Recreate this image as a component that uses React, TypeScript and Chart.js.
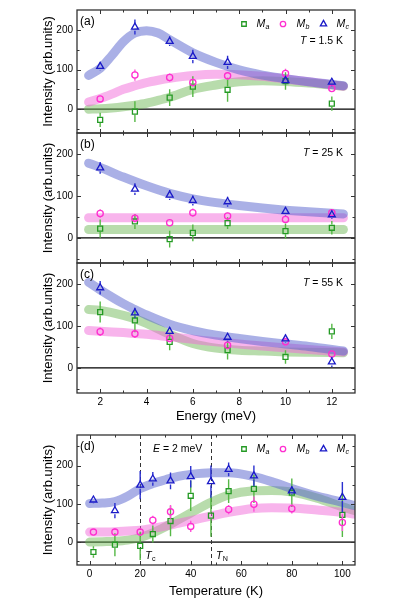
import React, { useEffect, useRef } from 'react';
import { Chart, registerables } from 'chart.js';
Chart.register(...registerables);

const FONT = '"Liberation Sans", Arial, Helvetica, sans-serif';

// ---------- tick values ----------
const energyTicks = [2, 4, 6, 8, 10, 12];
const energyMinor = [3, 5, 7, 9, 11];
const tempTicks = [0, 20, 40, 60, 80, 100];
const tempMinor = [10, 30, 50, 70, 90];
const intensityTicks = [0, 100, 200];
const intensityMinor = [-50, 50, 150, 250];

// ---------- panel (a) T = 1.5 K ----------
const energyA = [2, 3.5, 5, 6, 7.5, 10, 12];
const maA = [-27, -6, 29, 57, 49, 71, 14];
const maAErr = [18, 26, 21, 26, 30, 22, 18];
const mbA = [26, 86, 80, 67, 84, 90, 52];
const mbAErr = [8, 14, 10, 10, 10, 12, 8];
const mcA = [108, 207, 171, 133, 118, 72, 68];
const mcAErr = [10, 19, 12, 17, 17, 10, 10];
const fitEA = [1.5, 2, 2.5, 3, 3.5, 4, 4.5, 5, 6, 7, 8, 9, 10, 11, 12.5];
const fitMcA = [85, 103, 135, 170, 192, 198, 192, 175, 142, 118, 99, 86, 77, 69, 59];
const fitMbA = [18, 27, 38, 50, 59, 67, 73, 78, 85, 88, 87, 83, 76, 69, 58];
const fitMaA = [0, 1, 3, 6, 10, 15, 22, 30, 50, 61, 69, 72, 70, 66, 58];

// ---------- panel (b) T = 25 K ----------
const energyB = [2, 3.5, 5, 6, 7.5, 10, 12];
const maB = [22, 39, -3, 12, 35, 16, 24];
const maBErr = [22, 18, 20, 20, 14, 18, 16];
const mbB = [58, 47, 36, 60, 52, 44, 60];
const mbBErr = [10, 10, 8, 10, 8, 8, 8];
const mcB = [167, 116, 102, 89, 86, 63, 55];
const mcBErr = [14, 14, 12, 12, 12, 10, 10];
const fitEB = [1.5, 2, 3, 4, 5, 6, 7, 8, 9, 10, 11, 12.5];
const fitMcB = [178, 168, 145, 124, 106, 93, 84, 77, 71, 66, 62, 57];
const fitEFlat = [1.5, 12.5];
const fitMbB = [48, 48];
const fitMaB = [20, 20];

// ---------- panel (c) T = 55 K ----------
const energyC = [2, 3.5, 5, 7.5, 10, 12];
const maC = [133, 113, 62, 42, 26, 87];
const maCErr = [25, 28, 20, 22, 16, 18];
const mbC = [86, 81, 70, 54, 62, 33];
const mbCErr = [10, 10, 8, 10, 10, 8];
const mcC = [191, 131, 87, 73, 69, 14];
const mcCErr = [16, 12, 10, 10, 10, 12];
const fitEC = [1.5, 2, 3, 3.5, 4, 5, 6, 7, 8, 9, 10, 11, 12.5];
const fitMcC = [204, 186, 153, 139, 126, 104, 89, 78, 70, 63, 57, 51, 40];
const fitMaC = [139, 137, 125, 117, 106, 80, 58, 47, 42, 40, 38, 37, 36];
const fitMbC = [89, 87, 84, 82, 80, 74, 68, 62, 57, 52, 48, 44, 38];

// ---------- panel (d) E = 2 meV ----------
const tempD = [1.5, 10, 20, 25, 32, 40, 48, 55, 65, 80, 100];
const maD = [-26, -7, -10, 21, 55, 121, 69, 133, 139, 129, 71];
const maDErr = [15, 30, 37, 22, 40, 40, 55, 31, 37, 37, 58];
const tempDb = [1.5, 10, 20, 25, 32, 40, 55, 65, 80, 100];
const mbD = [26, 26, 26, 57, 79, 41, 85, 99, 87, 51];
const mbDErr = [8, 10, 10, 12, 18, 15, 12, 20, 12, 22];
const mcD = [110, 82, 149, 165, 160, 171, 158, 190, 173, 134, 117];
const mcDErr = [10, 20, 37, 18, 22, 28, 42, 18, 27, 11, 40];
const fitT = [0, 5, 10, 15, 20, 25, 30, 35, 40, 48, 55, 65, 72, 80, 90, 100, 105];
const fitMcD = [101, 102, 106, 120, 140, 153, 163, 172, 177, 181, 181, 171, 158, 140, 120, 104, 95];
const fitMbD = [26, 26, 27, 29, 31, 36, 42, 49, 56, 68, 78, 88, 90, 89, 84, 78, 73];
const fitMaD = [0, 1, 2, 5, 12, 24, 40, 58, 76, 104, 123, 134, 135, 131, 115, 92, 82];
const tcTemp = 20;
const tnTemp = 48;

// ---------- styles ----------
const GREEN = '#249a24';
const GREEN_ERR = '#55b845';
const PINK = '#ff2fd0';
const PINK_ERR = '#ff55d8';
const BLUE = '#1a1ac8';
const BLUE_ERR = '#2a30d0';
const GREEN_BAND = 'rgba(113,185,89,0.5)';
const PINK_BAND = 'rgba(241,105,217,0.5)';
const BLUE_BAND = 'rgba(85,97,205,0.5)';
const AXIS = '#333';

const pts = (xs: number[], ys: number[]) => xs.map((x, i) => ({ x, y: ys[i] }));

function fitSet(xs: number[], ys: number[], color: string, order: number) {
  return {
    type: 'line',
    data: pts(xs, ys),
    borderColor: color,
    borderWidth: 9,
    pointRadius: 0,
    cubicInterpolationMode: 'monotone',
    borderCapStyle: 'round',
    borderJoinStyle: 'round',
    fill: false,
    order,
    clip: 0,
  };
}

function markSet(xs: number[], ys: number[], errs: number[], style: string, color: string, errColor: string, radius: number) {
  return {
    type: 'line',
    data: pts(xs, ys),
    showLine: false,
    pointStyle: style,
    pointRadius: radius,
    pointHoverRadius: radius,
    pointBorderColor: color,
    pointBackgroundColor: 'rgba(0,0,0,0)',
    pointBorderWidth: 1.3,
    errors: errs,
    errColor,
    order: 1,
  };
}

const errorBarPlugin = {
  id: 'errBars',
  beforeDatasetDraw(chart: any, args: any) {
    const ds = chart.data.datasets[args.index];
    if (!ds.errors) return;
    const ctx = chart.ctx;
    const xs = chart.scales.x;
    const ys = chart.scales.y;
    const gap = ds.pointRadius * 0.9;
    ctx.save();
    ctx.strokeStyle = ds.errColor;
    ctx.lineWidth = 1.4;
    ds.data.forEach((p: any, i: number) => {
      const e = ds.errors[i];
      const px = xs.getPixelForValue(p.x);
      const py = ys.getPixelForValue(p.y);
      const y1 = ys.getPixelForValue(p.y + e);
      const y2 = ys.getPixelForValue(p.y - e);
      ctx.beginPath();
      ctx.moveTo(px, y1);
      ctx.lineTo(px, Math.max(y1, py - gap));
      ctx.moveTo(px, Math.min(y2, py + gap));
      ctx.lineTo(px, y2);
      ctx.stroke();
    });
    ctx.restore();
  },
};

function drawMarker(ctx: CanvasRenderingContext2D, style: string, x: number, y: number, r: number, color: string) {
  ctx.save();
  ctx.strokeStyle = color;
  ctx.lineWidth = 1.3;
  ctx.beginPath();
  if (style === 'rect') {
    const s = Math.SQRT1_2 * r;
    ctx.rect(x - s, y - s, 2 * s, 2 * s);
  } else if (style === 'circle') {
    ctx.arc(x, y, r, 0, Math.PI * 2);
  } else {
    const a = (Math.PI * 2) / 3;
    ctx.moveTo(x, y - r);
    ctx.lineTo(x + Math.sin(a) * r, y - Math.cos(a) * r);
    ctx.lineTo(x - Math.sin(a) * r, y - Math.cos(a) * r);
    ctx.closePath();
  }
  ctx.stroke();
  ctx.restore();
}

function symText(ctx: CanvasRenderingContext2D, x: number, y: number, main: string, sub: string, size: number, subItalic: boolean) {
  ctx.font = `italic ${size}px ${FONT}`;
  ctx.textAlign = 'left';
  ctx.fillText(main, x, y);
  const w = ctx.measureText(main).width;
  ctx.font = `${subItalic ? 'italic ' : ''}${size * 0.68}px ${FONT}`;
  ctx.fillText(sub, x + w + 0.3, y + size * 0.33);
}

type Deco = {
  label: string;
  xMajor: number[];
  xMinor: number[];
  zeroWidth: number;
  zeroColor: string;
  legend: boolean;
  legendDy: number;
  note: { sym: string; rest: string; dy: number; anchor: 'right' | 'left'; dx: number };
  vlines?: { at: number; sym: string; sub: string }[];
};

function makeDeco(cfg: Deco) {
  return {
    id: 'deco',
    beforeDatasetsDraw(chart: any) {
      const { ctx, chartArea } = chart;
      const { left, right, top, bottom } = chartArea;
      const xs = chart.scales.x;
      const ys = chart.scales.y;
      ctx.save();
      const zy = ys.getPixelForValue(0);
      ctx.strokeStyle = cfg.zeroColor;
      ctx.lineWidth = cfg.zeroWidth;
      ctx.beginPath();
      ctx.moveTo(left, zy);
      ctx.lineTo(right, zy);
      ctx.stroke();
      if (cfg.vlines) {
        ctx.strokeStyle = '#333';
        ctx.lineWidth = 1;
        ctx.setLineDash([4, 3]);
        cfg.vlines.forEach((v) => {
          const px = Math.round(xs.getPixelForValue(v.at)) + 0.5;
          ctx.beginPath();
          ctx.moveTo(px, top);
          ctx.lineTo(px, bottom);
          ctx.stroke();
        });
        ctx.setLineDash([]);
      }
      ctx.restore();
    },
    afterDatasetsDraw(chart: any) {
      const { ctx, chartArea } = chart;
      const { left, right, top, bottom } = chartArea;
      const xs = chart.scales.x;
      const ys = chart.scales.y;
      ctx.save();
      // frame
      ctx.strokeStyle = AXIS;
      ctx.lineWidth = 1.3;
      ctx.strokeRect(left, top, right - left, bottom - top);
      ctx.lineWidth = 1;
      const inside = (v: number, s: any) => v > s.min && v < s.max;
      const xt = (vals: number[], len: number) => vals.filter((v) => inside(v, xs)).forEach((v) => {
        const px = Math.round(xs.getPixelForValue(v)) + 0.5;
        ctx.beginPath();
        ctx.moveTo(px, bottom); ctx.lineTo(px, bottom - len);
        ctx.moveTo(px, top); ctx.lineTo(px, top + len);
        ctx.stroke();
      });
      const yt = (vals: number[], len: number) => vals.filter((v) => inside(v, ys)).forEach((v) => {
        const py = Math.round(ys.getPixelForValue(v)) + 0.5;
        ctx.beginPath();
        ctx.moveTo(left, py); ctx.lineTo(left + len, py);
        ctx.moveTo(right, py); ctx.lineTo(right - len, py);
        ctx.stroke();
      });
      xt(cfg.xMajor, 4); xt(cfg.xMinor, 2.5);
      yt(intensityTicks, 4); yt(intensityMinor, 2.5);

      ctx.fillStyle = '#000';
      ctx.textBaseline = 'middle';
      // panel label
      ctx.font = `12px ${FONT}`;
      ctx.textAlign = 'left';
      ctx.fillText(cfg.label, left + 3, top + 12);

      // note (T = ... / E = ...)
      const n = cfg.note;
      const size = 10.5;
      ctx.font = `italic ${size}px ${FONT}`;
      const w1 = ctx.measureText(n.sym).width;
      ctx.font = `${size}px ${FONT}`;
      const w2 = ctx.measureText(n.rest).width;
      const nx = n.anchor === 'right' ? right - n.dx - (w1 + w2) : left + n.dx;
      const ny = top + n.dy;
      ctx.textAlign = 'left';
      ctx.font = `italic ${size}px ${FONT}`;
      ctx.fillText(n.sym, nx, ny);
      ctx.font = `${size}px ${FONT}`;
      ctx.fillText(n.rest, nx + w1, ny);

      // legend
      if (cfg.legend) {
        const ly = top + cfg.legendDy;
        const items = [
          { style: 'rect', color: GREEN, sub: 'a', mx: 111, tx: 98.5 },
          { style: 'circle', color: PINK, sub: 'b', mx: 72, tx: 58.5 },
          { style: 'triangle', color: BLUE, sub: 'c', mx: 31.5, tx: 18.5 },
        ];
        items.forEach((it) => {
          const r = it.style === 'rect' ? 3.2 : it.style === 'circle' ? 2.7 : 3.6;
          drawMarker(ctx, it.style, right - it.mx, ly, r, it.color);
          ctx.fillStyle = '#000';
          symText(ctx, right - it.tx, ly, 'M', it.sub, 10.5, true);
        });
      }

      // Tc / TN labels
      if (cfg.vlines) {
        cfg.vlines.forEach((v) => {
          const px = xs.getPixelForValue(v.at);
          symText(ctx, px + 5, bottom - 9, v.sym, v.sub, 10.5, false);
        });
      }
      ctx.restore();
    },
  };
}

function buildConfig(opts: {
  datasets: any[];
  top: number;
  bottom: number;
  xShown: boolean;
  xHeight: number;
  xMin: number;
  xMax: number;
  xTicks: number[];
  xTitle: string;
  xTitlePad: number;
  yMin: number;
  yMax: number;
  deco: Deco;
}) {
  const H = 602;
  return {
    type: 'line',
    data: { datasets: opts.datasets },
    options: {
      animation: false,
      responsive: false,
      maintainAspectRatio: false,
      devicePixelRatio: 1,
      events: [],
      layout: {
        padding: {
          left: 0,
          right: 43,
          top: opts.top,
          bottom: H - opts.bottom - (opts.xShown ? opts.xHeight : 0),
        },
      },
      plugins: { legend: { display: false }, tooltip: { enabled: false } },
      scales: {
        x: {
          type: 'linear',
          display: opts.xShown,
          min: opts.xMin,
          max: opts.xMax,
          afterBuildTicks: (s: any) => { s.ticks = opts.xTicks.map((v) => ({ value: v })); },
          afterFit: (s: any) => { s.height = opts.xHeight; },
          grid: { display: false, drawTicks: false },
          border: { display: false },
          ticks: { color: '#000', padding: 3, font: { family: FONT, size: 10 }, maxRotation: 0 },
          title: {
            display: true,
            text: opts.xTitle,
            color: '#000',
            font: { family: FONT, size: 13 },
            padding: { top: 0, bottom: opts.xTitlePad },
          },
        },
        y: {
          type: 'linear',
          min: opts.yMin,
          max: opts.yMax,
          afterBuildTicks: (s: any) => { s.ticks = intensityTicks.map((v) => ({ value: v })); },
          afterFit: (s: any) => { s.width = 77; },
          grid: { display: false, drawTicks: false },
          border: { display: false },
          ticks: { color: '#000', padding: 4, font: { family: FONT, size: 10 } },
          title: {
            display: true,
            text: 'Intensity (arb.units)',
            color: '#000',
            font: { family: FONT, size: 13 },
            padding: { top: 41, bottom: 0 },
          },
        },
      },
    },
    plugins: [errorBarPlugin, makeDeco(opts.deco)],
  };
}

function energySets(
  ex: number[], ma: number[], maE: number[], mb: number[], mbE: number[], mc: number[], mcE: number[],
  fxA: number[], fa: number[], fxB: number[], fb: number[], fxC: number[], fc: number[]
) {
  return [
    markSet(ex, mc, mcE, 'triangle', BLUE, BLUE_ERR, 4),
    markSet(ex, mb, mbE, 'circle', PINK, PINK_ERR, 3.1),
    markSet(ex, ma, maE, 'rect', GREEN, GREEN_ERR, 3.5),
    fitSet(fxC, fc, BLUE_BAND, 10),
    fitSet(fxB, fb, PINK_BAND, 11),
    fitSet(fxA, fa, GREEN_BAND, 12),
  ];
}

const panelA = () => buildConfig({
  datasets: energySets(energyA, maA, maAErr, mbA, mbAErr, mcA, mcAErr, fitEA, fitMaA, fitEA, fitMbA, fitEA, fitMcA),
  top: 5, bottom: 133, xShown: false, xHeight: 0,
  xMin: 1, xMax: 13, xTicks: energyTicks, xTitle: 'Energy (meV)', xTitlePad: 0,
  yMin: -60, yMax: 250,
  deco: {
    label: '(a)', xMajor: energyTicks, xMinor: energyMinor, zeroWidth: 1.2, zeroColor: '#000',
    legend: true, legendDy: 14,
    note: { sym: 'T', rest: ' = 1.5 K', dy: 31.5, anchor: 'right', dx: 12 },
  },
});

const panelB = () => buildConfig({
  datasets: energySets(energyB, maB, maBErr, mbB, mbBErr, mcB, mcBErr, fitEFlat, fitMaB, fitEFlat, fitMbB, fitEB, fitMcB),
  top: 133, bottom: 263, xShown: false, xHeight: 0,
  xMin: 1, xMax: 13, xTicks: energyTicks, xTitle: 'Energy (meV)', xTitlePad: 0,
  yMin: -60, yMax: 250,
  deco: {
    label: '(b)', xMajor: energyTicks, xMinor: energyMinor, zeroWidth: 1.2, zeroColor: '#000',
    legend: false, legendDy: 14,
    note: { sym: 'T', rest: ' = 25 K', dy: 20.5, anchor: 'right', dx: 12 },
  },
});

const panelC = () => buildConfig({
  datasets: energySets(energyC, maC, maCErr, mbC, mbCErr, mcC, mcCErr, fitEC, fitMaC, fitEC, fitMbC, fitEC, fitMcC),
  top: 263, bottom: 393, xShown: true, xHeight: 31,
  xMin: 1, xMax: 13, xTicks: energyTicks, xTitle: 'Energy (meV)', xTitlePad: 0,
  yMin: -60, yMax: 250,
  deco: {
    label: '(c)', xMajor: energyTicks, xMinor: energyMinor, zeroWidth: 1.2, zeroColor: '#000',
    legend: false, legendDy: 14,
    note: { sym: 'T', rest: ' = 55 K', dy: 20.5, anchor: 'right', dx: 12 },
  },
});

const panelD = () => buildConfig({
  datasets: [
    markSet(tempD, mcD, mcDErr, 'triangle', BLUE, BLUE_ERR, 4),
    markSet(tempDb, mbD, mbDErr, 'circle', PINK, PINK_ERR, 3.1),
    markSet(tempD, maD, maDErr, 'rect', GREEN, GREEN_ERR, 3.5),
    fitSet(fitT, fitMcD, BLUE_BAND, 10),
    fitSet(fitT, fitMbD, PINK_BAND, 11),
    fitSet(fitT, fitMaD, GREEN_BAND, 12),
  ],
  top: 435, bottom: 565, xShown: true, xHeight: 37,
  xMin: -5, xMax: 105, xTicks: tempTicks, xTitle: 'Temperature (K)', xTitlePad: 3,
  yMin: -60, yMax: 280,
  deco: {
    label: '(d)', xMajor: tempTicks, xMinor: tempMinor, zeroWidth: 1.8, zeroColor: '#444',
    legend: true, legendDy: 14,
    note: { sym: 'E', rest: ' = 2 meV', dy: 14, anchor: 'left', dx: 76 },
    vlines: [
      { at: tcTemp, sym: 'T', sub: 'c' },
      { at: tnTemp, sym: 'T', sub: 'N' },
    ],
  },
});

function PanelChart({ build }: { build: () => any }) {
  const ref = useRef<HTMLCanvasElement>(null);
  useEffect(() => {
    const chart = new Chart(ref.current as HTMLCanvasElement, build());
    return () => chart.destroy();
  }, [build]);
  return (
    <canvas
      ref={ref}
      width={398}
      height={602}
      style={{ position: 'absolute', left: 0, top: 0, width: 398, height: 602 }}
    />
  );
}

export default function App() {
  return (
    <div style={{ position: 'absolute', left: 0, top: 0, width: 398, height: 602, background: '#fff', overflow: 'hidden' }}>
      <PanelChart build={panelA} />
      <PanelChart build={panelB} />
      <PanelChart build={panelC} />
      <PanelChart build={panelD} />
    </div>
  );
}
